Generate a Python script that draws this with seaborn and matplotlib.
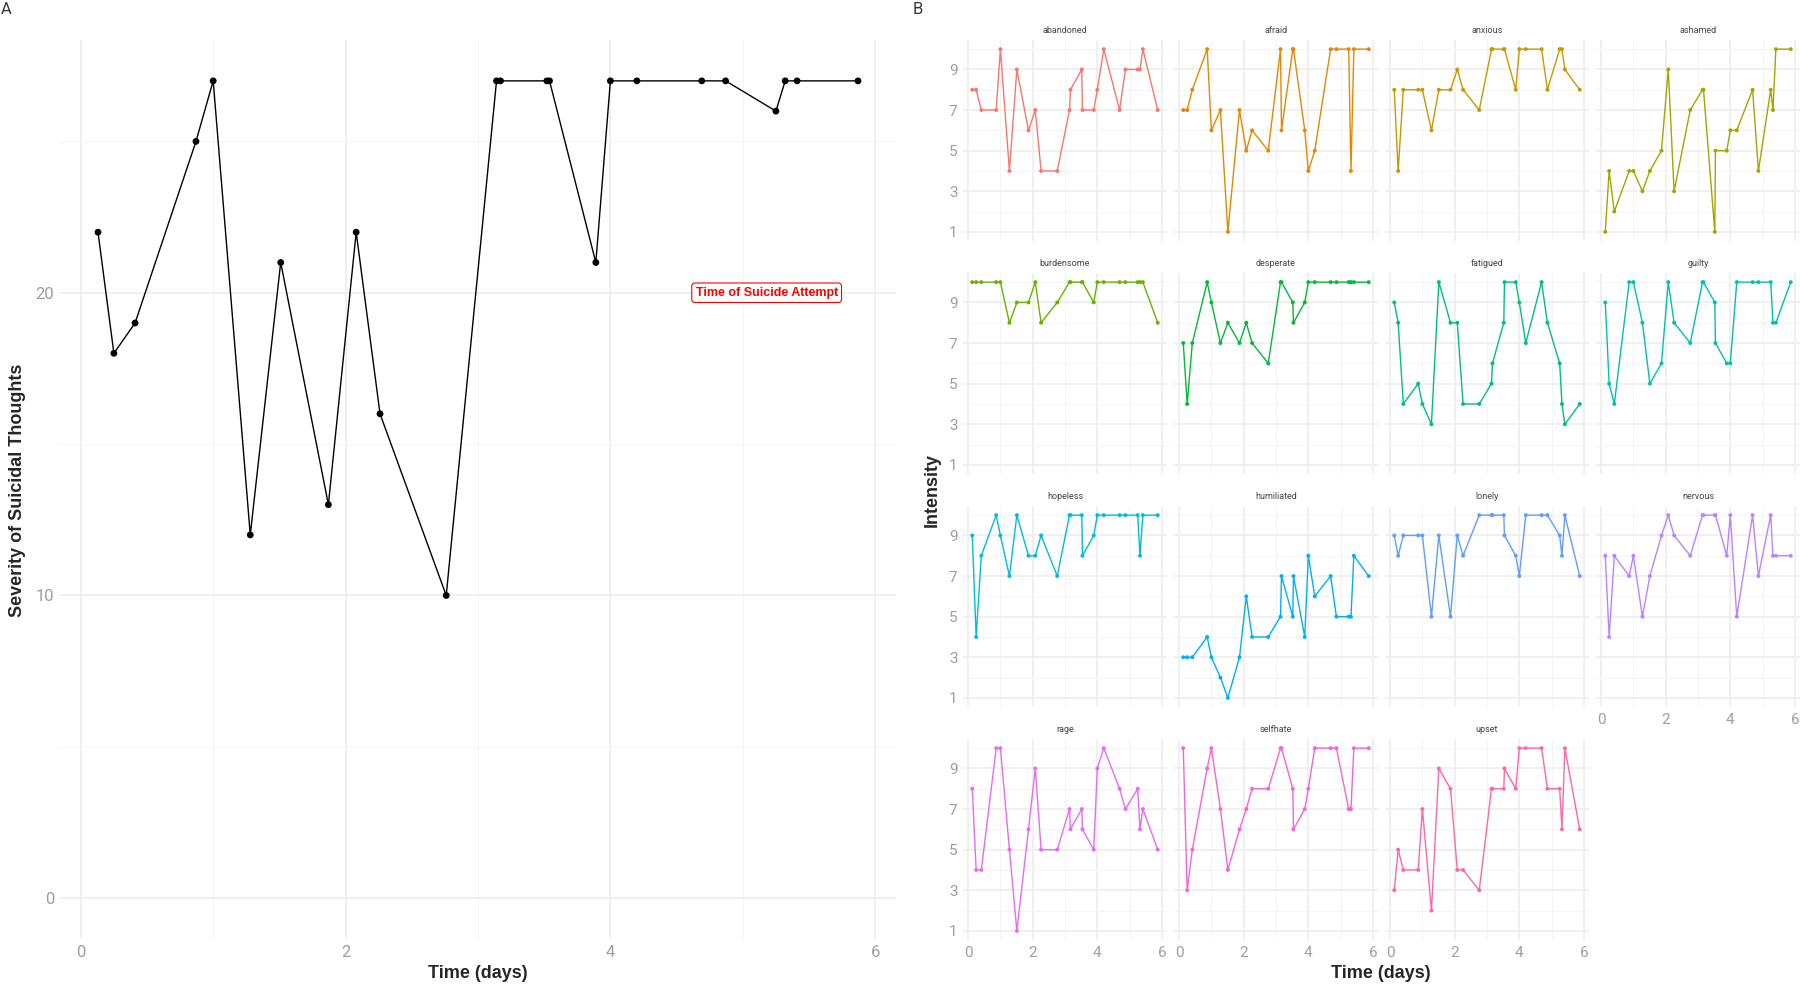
import matplotlib
matplotlib.use("Agg")
import matplotlib.pyplot as plt
import seaborn as sns
import pandas as pd

# --- data ---
times = [0.13, 0.25, 0.41, 0.87, 1.00, 1.28, 1.51, 1.87, 2.08, 2.26, 2.76, 3.14,
         3.17, 3.52, 3.54, 3.89, 4.00, 4.20, 4.69, 4.87, 5.25, 5.32, 5.41, 5.87]

severity = [22, 18, 19, 25, 27, 12, 21, 13, 22, 16, 10, 27,
            27, 27, 27, 21, 27, 27, 27, 27, 26, 27, 27, 27]

attempt_time = 5.18
attempt_level = 20

abandoned = [8, 8, 7, 7, 10, 4, 9, 6, 7, 4, 4, 7, 8, 9, 7, 7, 8, 10, 7, 9, 9, 9, 10, 7]
afraid = [7, 7, 8, 10, 6, 7, 1, 7, 5, 6, 5, 10, 6, 10, 10, 6, 4, 5, 10, 10, 10, 4, 10, 10]
anxious = [8, 4, 8, 8, 8, 6, 8, 8, 9, 8, 7, 10, 10, 10, 10, 8, 10, 10, 10, 8, 10, 10, 9, 8]
ashamed = [1, 4, 2, 4, 4, 3, 4, 5, 9, 3, 7, 8, 8, 1, 5, 5, 6, 6, 8, 4, 8, 7, 10, 10]
burdensome = [10, 10, 10, 10, 10, 8, 9, 9, 10, 8, 9, 10, 10, 10, 10, 9, 10, 10, 10, 10, 10, 10, 10, 8]
desperate = [7, 4, 7, 10, 9, 7, 8, 7, 8, 7, 6, 10, 10, 9, 8, 9, 10, 10, 10, 10, 10, 10, 10, 10]
fatigued = [9, 8, 4, 5, 4, 3, 10, 8, 8, 4, 4, 5, 6, 8, 10, 10, 9, 7, 10, 8, 6, 4, 3, 4]
guilty = [9, 5, 4, 10, 10, 8, 5, 6, 10, 8, 7, 10, 10, 9, 7, 6, 6, 10, 10, 10, 10, 8, 8, 10]
hopeless = [9, 4, 8, 10, 9, 7, 10, 8, 8, 9, 7, 10, 10, 10, 8, 9, 10, 10, 10, 10, 10, 8, 10, 10]
humiliated = [3, 3, 3, 4, 3, 2, 1, 3, 6, 4, 4, 5, 7, 5, 7, 4, 8, 6, 7, 5, 5, 5, 8, 7]
lonely = [9, 8, 9, 9, 9, 5, 9, 5, 9, 8, 10, 10, 10, 10, 9, 8, 7, 10, 10, 10, 9, 8, 10, 7]
nervous = [8, 4, 8, 7, 8, 5, 7, 9, 10, 9, 8, 10, 10, 10, 10, 8, 10, 5, 10, 7, 10, 8, 8, 8]
rage = [8, 4, 4, 10, 10, 5, 1, 6, 9, 5, 5, 7, 6, 7, 6, 5, 9, 10, 8, 7, 8, 6, 7, 5]
selfhate = [10, 3, 5, 9, 10, 7, 4, 6, 7, 8, 8, 10, 10, 8, 6, 7, 8, 10, 10, 10, 7, 7, 10, 10]
upset = [3, 5, 4, 4, 7, 2, 9, 8, 4, 4, 3, 8, 8, 8, 9, 8, 10, 10, 10, 8, 8, 6, 10, 6]

emotion_names = ["abandoned", "afraid", "anxious", "ashamed", "burdensome", "desperate",
                 "fatigued", "guilty", "hopeless", "humiliated", "lonely", "nervous",
                 "rage", "selfhate", "upset"]
emotion_values = [abandoned, afraid, anxious, ashamed, burdensome, desperate, fatigued,
                  guilty, hopeless, humiliated, lonely, nervous, rage, selfhate, upset]

# ggplot default hue palette for 15 levels
palette = ["#F8766D", "#E58700", "#C99800", "#A3A500", "#6BB100", "#00BA38", "#00BF7D",
           "#00C0AF", "#00BCD8", "#00B0F6", "#619CFF", "#B983FF", "#E76BF3", "#FD61D1",
           "#FF67A4"]

df_a = pd.DataFrame({"time": times, "severity": severity})
df_b = pd.concat(
    [pd.DataFrame({"time": times, "intensity": vals, "emotion": name})
     for name, vals in zip(emotion_names, emotion_values)],
    ignore_index=True,
)

sns.set_theme(style="white")
plt.rcParams["font.family"] = ["Roboto", "DejaVu Sans"]

W, H = 1800, 986
fig = plt.figure(figsize=(W / 100, H / 100), dpi=100)

TICK_COLOR = "#9e9e9e"
TITLE_FONT = ["Liberation Sans", "DejaVu Sans"]


def px_axes(left, top, width, height):
    return fig.add_axes([left / W, 1 - (top + height) / H, width / W, height / H])


def style_axes(ax, xmaj, xmin, ymaj, ymin, xlim, ylim, size):
    ax.set_xlim(*xlim)
    ax.set_ylim(*ylim)
    ax.set_xticks(xmaj)
    ax.set_xticks(xmin, minor=True)
    ax.set_yticks(ymaj)
    ax.set_yticks(ymin, minor=True)
    ax.grid(which="major", color="#EDEDED", linewidth=1.2)
    ax.grid(which="minor", color="#F4F4F4", linewidth=0.7)
    ax.set_axisbelow(True)
    ax.tick_params(which="both", length=0, labelsize=size, colors=TICK_COLOR, pad=4)
    sns.despine(ax=ax, left=True, bottom=True)
    ax.set_xlabel("")
    ax.set_ylabel("")


# --- Panel A ---
axA = px_axes(60, 40, 836, 899)
sns.lineplot(data=df_a, x="time", y="severity", color="black", linewidth=1.0,
             estimator=None, ax=axA)
sns.scatterplot(data=df_a, x="time", y="severity", color="black", s=24,
                edgecolor="none", ax=axA, zorder=3)
style_axes(axA, [0, 2, 4, 6], [1, 3, 5], [0, 10, 20], [5, 15, 25],
           (-0.157, 6.157), (-1.35, 28.35), 12)
axA.text(attempt_time, attempt_level, "Time of Suicide Attempt", color="red",
         fontweight="bold", fontsize=9, family=TITLE_FONT, ha="center", va="center",
         bbox=dict(boxstyle="round,pad=0.3,rounding_size=0.25", fc="white", ec="red", lw=0.8))

fig.text(18 / W, 1 - 490 / H, "Severity of Suicidal Thoughts", rotation=90, ha="center",
         va="center", fontsize=13, fontweight="bold", family=TITLE_FONT)
fig.text(478 / W, 1 - 973 / H, "Time (days)", ha="center", va="center",
         fontsize=13, fontweight="bold", family=TITLE_FONT)
fig.text(1 / W, 1 - 2 / H, "A", ha="left", va="top", fontsize=12, color="#333333")

# --- Panel B ---
col_lefts = [963, 1174, 1385, 1596]
row_tops = [40, 273, 506, 739]

for i, name in enumerate(emotion_names):
    r, c = divmod(i, 4)
    ax = px_axes(col_lefts[c], row_tops[r], 204, 201)
    sub = df_b[df_b["emotion"] == name]
    sns.lineplot(data=sub, x="time", y="intensity", color=palette[i], linewidth=1.0,
                 estimator=None, ax=ax)
    sns.scatterplot(data=sub, x="time", y="intensity", color=palette[i], s=8,
                    edgecolor="none", ax=ax, zorder=3)
    style_axes(ax, [0, 2, 4, 6], [1, 3, 5], [1, 3, 5, 7, 9], [2, 4, 6, 8, 10],
               (-0.157, 6.157), (0.55, 10.45), 11)
    if c != 0:
        ax.set_yticklabels([])
    if not (r == 3 or (r == 2 and c == 3)):
        ax.set_xticklabels([])
    ax.set_title(name, fontsize=6.5, color="#444444", pad=5)

fig.text(932 / W, 1 - 490 / H, "Intensity", rotation=90, ha="center", va="center",
         fontsize=13, fontweight="bold", family=TITLE_FONT)
fig.text(1381 / W, 1 - 973 / H, "Time (days)", ha="center", va="center",
         fontsize=13, fontweight="bold", family=TITLE_FONT)
fig.text(913 / W, 1 - 2 / H, "B", ha="left", va="top", fontsize=12, color="#333333")

fig.savefig("out.png", dpi=100, facecolor="white")
